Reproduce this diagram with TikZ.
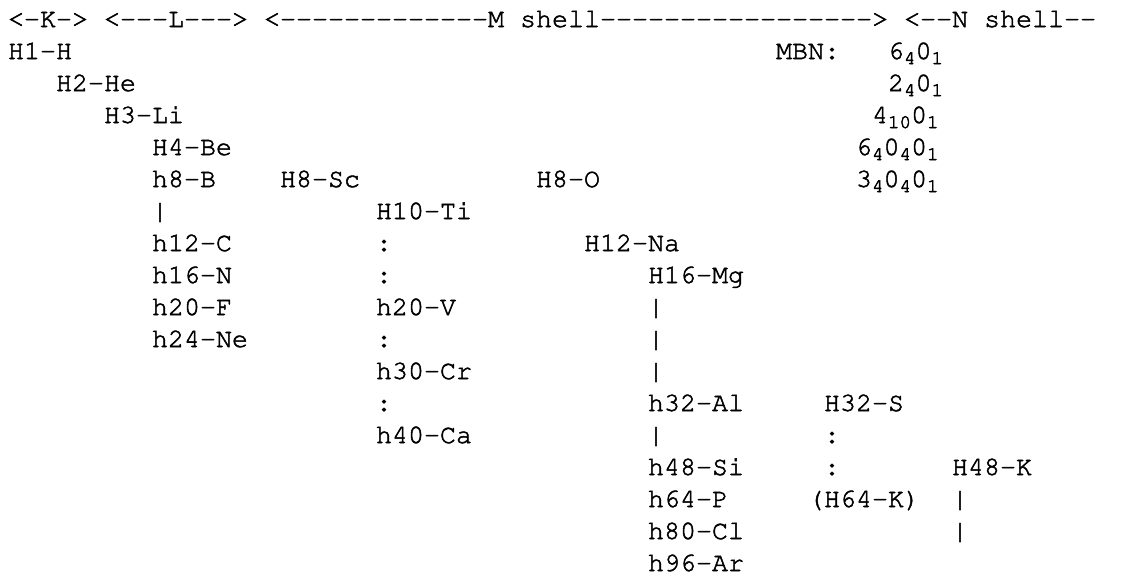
\documentclass[tikz,border=0pt]{standalone}
\usepackage[T1]{fontenc}
\usepackage{courier}
\newcommand\sbx[1]{\raisebox{-5pt}{\fontsize{19.2pt}{19.2pt}\selectfont #1}}
\newcommand\hy[1]{\foreach \i in {1,...,#1}{-}}
\begin{document}
\begin{tikzpicture}[
  t/.style={inner sep=0pt, outer sep=0pt, anchor=base west, text=black,
            font=\fontsize{26.67pt}{32pt}\selectfont\ttfamily,
            execute at begin node={\special{pdf:literal direct 2 Tr 0.5 w}}}]
\useasboundingbox (0,0) rectangle (1121pt,-576pt);
\begin{scope}[shift={(8pt,-27pt)}, x=16pt, y=-32pt]
% header
\node[t] (hdr) at (0,0) {<\hy{1}K\hy{1}> <\hy{3}L\hy{3}> <\hy{13}M shell\hy{17}> <\hy{2}N shell\hy{2}};
% K / L shell
\node[t] (h1)  at (0,1) {H1-H};
\node[t] (h2)  at (3,2) {H2-He};
\node[t] (h3)  at (6,3) {H3-Li};
\node[t] (h4)  at (9,4) {H4-Be};
\node[t] (b8)  at (9,5) {h8-B};
\node[t] (bar1) at (9,6) {|};
\node[t] (c12) at (9,7) {h12-C};
\node[t] (n16) at (9,8) {h16-N};
\node[t] (f20) at (9,9) {h20-F};
\node[t] (ne24) at (9,10) {h24-Ne};
% M shell, Sc column
\node[t] (sc8) at (17,5) {H8-Sc};
\node[t] (ti10) at (23,6) {H10-Ti};
\node[t] (col1) at (23,7) {:};
\node[t] (col2) at (23,8) {:};
\node[t] (v20) at (23,9) {h20-V};
\node[t] (col3) at (23,10) {:};
\node[t] (cr30) at (23,11) {h30-Cr};
\node[t] (col4) at (23,12) {:};
\node[t] (ca40) at (23,13) {h40-Ca};
% O / Na / Mg column
\node[t] (o8)  at (33,5) {H8-O};
\node[t] (na12) at (36,7) {H12-Na};
\node[t] (mg16) at (40,8) {H16-Mg};
\node[t] (bar2) at (40,9) {|};
\node[t] (bar3) at (40,10) {|};
\node[t] (bar4) at (40,11) {|};
\node[t] (al32) at (40,12) {h32-Al};
\node[t] (bar5) at (40,13) {|};
\node[t] (si48) at (40,14) {h48-Si};
\node[t] (p64) at (40,15) {h64-P};
\node[t] (cl80) at (40,16) {h80-Cl};
\node[t] (ar96) at (40,17) {h96-Ar};
% S column
\node[t] (s32) at (51,12) {H32-S};
\node[t] (col5) at (51,13) {:};
\node[t] (col6) at (51,14) {:};
\node[t] (k64) at (50,15) {(H64-K)};
% K column
\node[t] (k48) at (59,14) {H48-K};
\node[t] (bar6) at (59,15) {|};
\node[t] (bar7) at (59,16) {|};
% MBN
\node[t] (mbn) at (48,1) {MBN:};
\node[t] (m1) at (55,1) {6\sbx{4}0\sbx{1}};
\node[t] (m2) at (55,2) {2\sbx{4}0\sbx{1}};
\node[t] (m3) at (54,3) {4\sbx{10}0\sbx{1}};
\node[t] (m4) at (53,4) {6\sbx{4}0\sbx{4}0\sbx{1}};
\node[t] (m5) at (53,5) {3\sbx{4}0\sbx{4}0\sbx{1}};
\end{scope}
\end{tikzpicture}
\end{document}
